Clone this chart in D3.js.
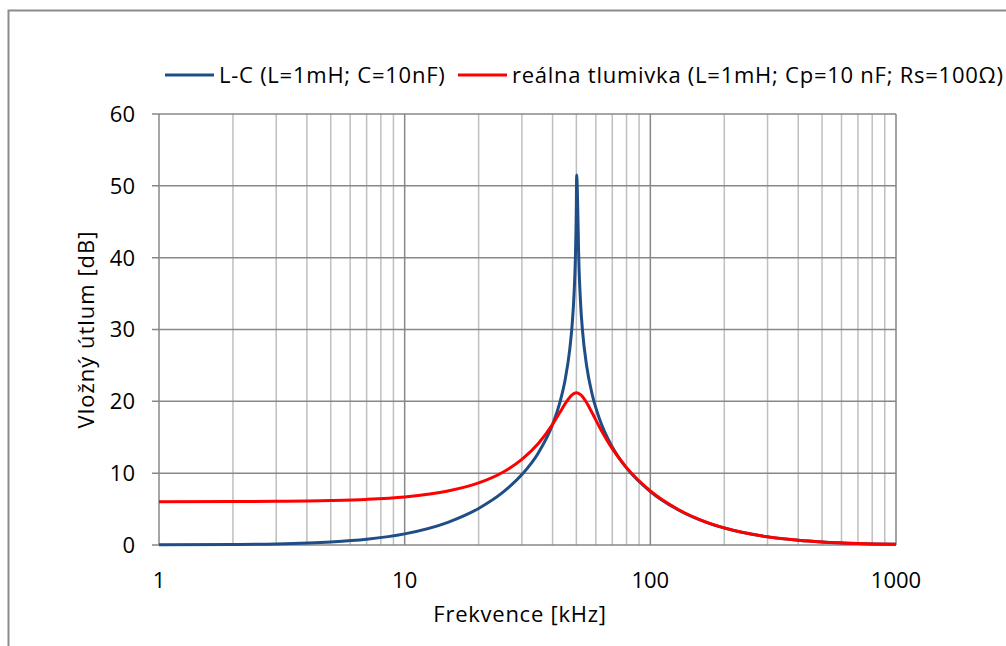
<!DOCTYPE html>
<html>
<head>
  <meta charset="utf-8">
  <title>Vložný útlum</title>
  <style>
    body { margin: 0; background: white; }
    svg { display: block; }
    text { font-family: "Open Sans", Lato, sans-serif; fill: #000; }
  </style>
</head>
<body>
  <svg width="1006" height="646"></svg>

  <script src="https://d3js.org/d3.v7.min.js"></script>
  <script>
    // L-C (L=1mH; C=10nF)
    const freqLC = [1, 2, 3, 5, 7, 10, 15, 20, 25, 30, 35, 40, 43, 45, 47, 48, 49, 49.5, 49.8, 50, 50.12, 50.8, 51, 52, 53, 55, 58, 62, 70, 80, 100, 130, 170, 200, 300, 400, 500, 700, 1000];
    const lossLC = [0.02, 0.07, 0.15, 0.42, 0.8, 1.55, 3.16, 5.09, 7.28, 9.8, 12.82, 16.77, 20.05, 23.0, 27.27, 30.46, 35.41, 39.56, 43.5, 47.6, 51.5, 44.6, 41.55, 33.7, 29.71, 25.02, 20.95, 17.61, 13.65, 10.73, 7.44, 4.88, 3.12, 2.36, 1.13, 0.66, 0.43, 0.22, 0.11];

    // reálna tlumivka (L=1mH; Cp=10 nF; Rs=100Ω)
    const freqReal = [1, 2, 3, 5, 7, 10, 15, 20, 25, 30, 35, 40, 43, 45, 47, 48, 49, 50, 51, 52, 53, 55, 58, 62, 70, 80, 100, 130, 170, 200, 300, 400, 500, 700, 1000];
    const lossReal = [6.03, 6.05, 6.08, 6.19, 6.35, 6.69, 7.51, 8.64, 10.1, 11.91, 14.13, 16.8, 18.55, 19.66, 20.58, 20.9, 21.11, 21.18, 21.12, 20.93, 20.64, 19.83, 18.37, 16.47, 13.41, 10.77, 7.54, 4.95, 3.16, 2.38, 1.14, 0.66, 0.43, 0.22, 0.11];

    const xTicks = [1, 10, 100, 1000];
    const yTicks = [0, 10, 20, 30, 40, 50, 60];

    const seriesNames = ["L-C (L=1mH; C=10nF)", "reálna tlumivka (L=1mH; Cp=10 nF; Rs=100Ω)"];
    const seriesColors = ["#1f4e87", "#ff0000"];

    const margin = { top: 114, left: 159, right: 110, bottom: 101 };
    const width = 1006, height = 646;
    const svg = d3.select("svg");

    // outer chart frame
    svg.append("rect")
      .attr("x", 8.5).attr("y", 10.5)
      .attr("width", 1010).attr("height", 650)
      .attr("fill", "none")
      .attr("stroke", "#8c8c8c")
      .attr("stroke-width", 2);

    const x = d3.scaleLog()
      .domain([1, 1000])
      .range([margin.left, width - margin.right]);
    const y = d3.scaleLinear()
      .domain([0, 60])
      .range([height - margin.bottom, margin.top]);

    // minor vertical grid
    const minor = [];
    [1, 10, 100].forEach(d => { for (let k = 2; k <= 9; k++) minor.push(d * k); });
    svg.append("g").selectAll("line")
      .data(minor).enter().append("line")
      .attr("x1", d => x(d)).attr("x2", d => x(d))
      .attr("y1", y(0)).attr("y2", y(60))
      .attr("stroke", "#bfbfbf").attr("stroke-width", 1.5);

    // major vertical grid
    svg.append("g").selectAll("line")
      .data(xTicks).enter().append("line")
      .attr("x1", d => x(d)).attr("x2", d => x(d))
      .attr("y1", y(0)).attr("y2", y(60))
      .attr("stroke", "#878787").attr("stroke-width", 1.5);

    // horizontal grid + y ticks
    svg.append("g").selectAll("line")
      .data(yTicks).enter().append("line")
      .attr("x1", x(1) - 7).attr("x2", x(1000))
      .attr("y1", d => y(d)).attr("y2", d => y(d))
      .attr("stroke", "#878787").attr("stroke-width", 1.5);

    svg.append("g").selectAll("text")
      .data(yTicks).enter().append("text")
      .attr("x", x(1) - 24)
      .attr("y", d => y(d))
      .attr("dy", "0.36em")
      .attr("text-anchor", "end")
      .attr("font-size", 22)
      .text(d => d);

    svg.append("g").selectAll("text")
      .data(xTicks).enter().append("text")
      .attr("x", d => x(d))
      .attr("y", y(0) + 43)
      .attr("text-anchor", "middle")
      .attr("font-size", 22)
      .text(d => d);

    // axis titles
    svg.append("text")
      .attr("x", 520)
      .attr("y", 622)
      .attr("text-anchor", "middle")
      .attr("font-size", 22)
      .attr("letter-spacing", 0.75)
      .text("Frekvence [kHz]");

    svg.append("text")
      .attr("transform", `translate(94, ${(y(0) + y(60)) / 2}) rotate(-90)`)
      .attr("text-anchor", "middle")
      .attr("font-size", 22)
      .attr("letter-spacing", 1)
      .text("Vložný útlum [dB]");

    // curves
    const line = d3.line()
      .x(d => x(d[0]))
      .y(d => y(d[1]))
      .curve(d3.curveMonotoneX);

    const dataLC = freqLC.map((f, i) => [f, lossLC[i]]);
    const dataReal = freqReal.map((f, i) => [f, lossReal[i]]);

    svg.append("path").datum(dataLC)
      .attr("d", line)
      .attr("fill", "none")
      .attr("stroke", seriesColors[0])
      .attr("stroke-width", 3);

    svg.append("path").datum(dataReal)
      .attr("d", line)
      .attr("fill", "none")
      .attr("stroke", seriesColors[1])
      .attr("stroke-width", 3);

    // legend
    const legendX = [165, 458];
    const leg = svg.append("g");
    seriesNames.forEach((name, i) => {
      leg.append("line")
        .attr("x1", legendX[i]).attr("x2", legendX[i] + 49)
        .attr("y1", 75).attr("y2", 75)
        .attr("stroke", seriesColors[i])
        .attr("stroke-width", 3);
      leg.append("text")
        .attr("x", legendX[i] + 54)
        .attr("y", 75)
        .attr("dy", "0.36em")
        .attr("font-size", 22)
        .attr("letter-spacing", 0.75)
        .text(name);
    });
  </script>
</body>
</html>
